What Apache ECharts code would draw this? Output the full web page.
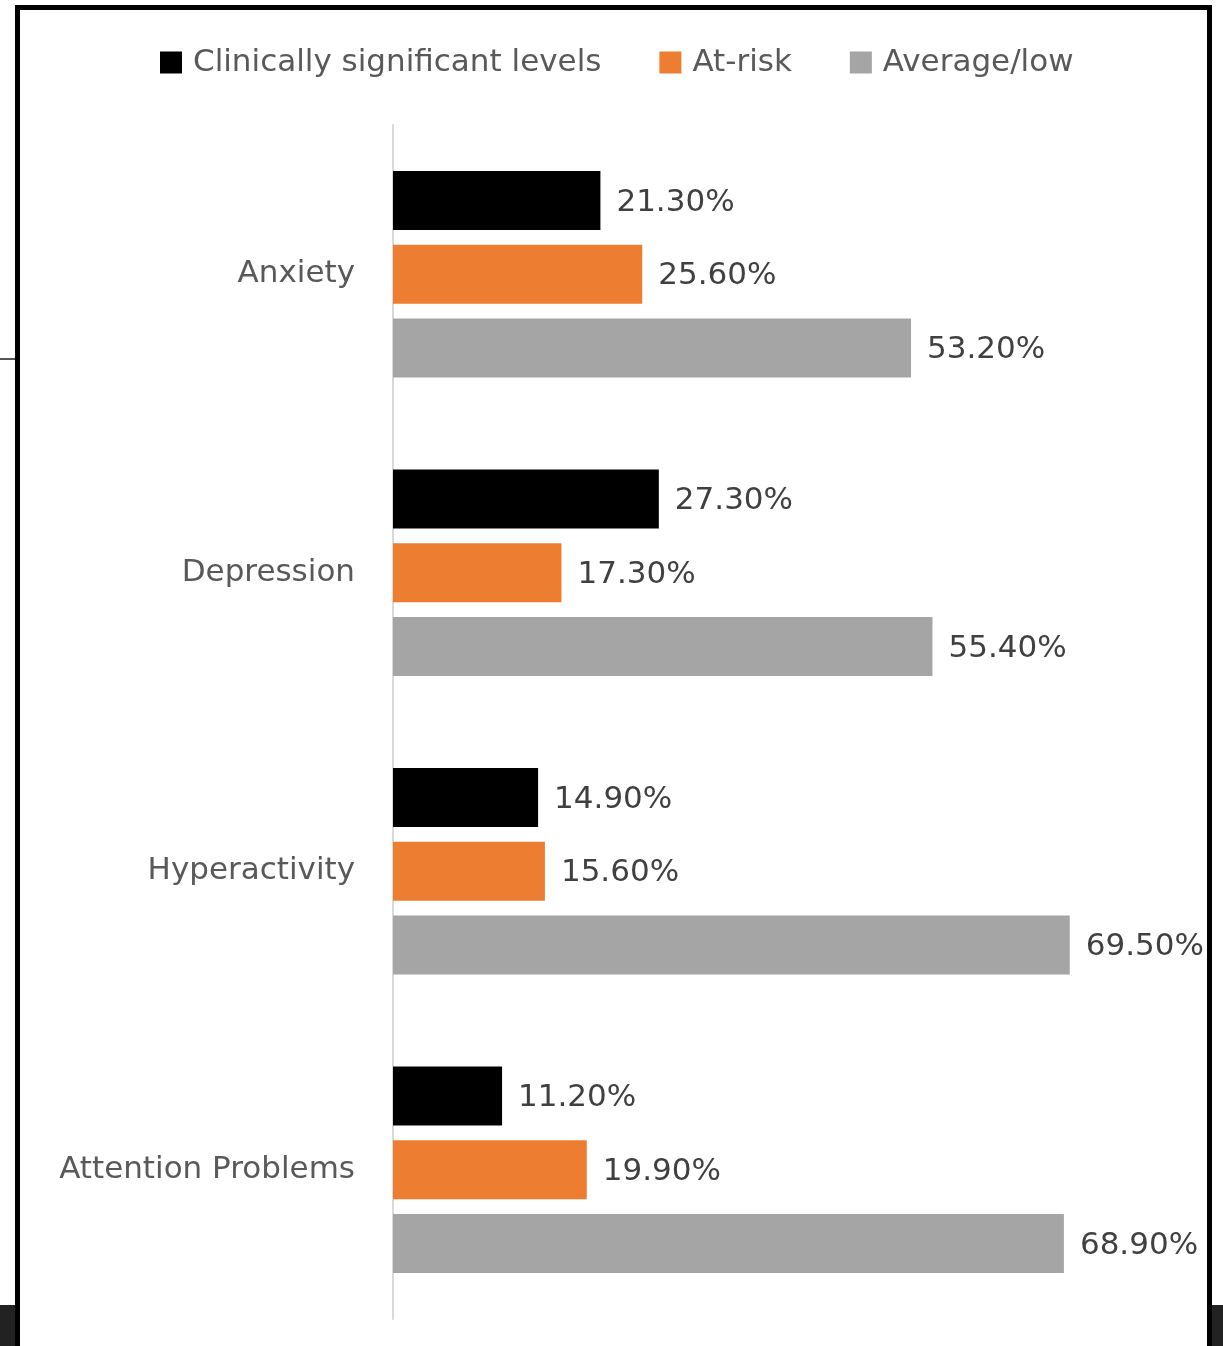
<!DOCTYPE html>
<html>
<head>
<meta charset="utf-8">
<script src="https://cdn.jsdelivr.net/npm/echarts@6/dist/echarts.min.js"></script>
<style>
  html, body { margin: 0; padding: 0; background: #ffffff; }
  #chart { width: 1223px; height: 1346px; }
</style>
</head>
<body>
<div id="chart"></div>
<script>
// Screening outcomes by scale
const categories = ['Anxiety', 'Depression', 'Hyperactivity', 'Attention Problems'];
const seriesNames = ['Clinically significant levels', 'At-risk', 'Average/low'];
const clinicallySignificant = [21.3, 27.3, 14.9, 11.2];
const atRisk = [25.6, 17.3, 15.6, 19.9];
const averageLow = [53.2, 55.4, 69.5, 68.9];
const seriesColors = ['#000000', '#ED7D31', '#A5A5A5'];

const FONT = '"DejaVu Sans", "Open Sans", sans-serif';
const valueSets = [clinicallySignificant, atRisk, averageLow];

const chart = echarts.init(document.getElementById('chart'), null, { renderer: 'canvas' });

chart.setOption({
  backgroundColor: '#ffffff',
  animation: false,
  legend: {
    data: seriesNames,
    left: 155,
    top: 42,
    icon: 'rect',
    itemWidth: 22,
    itemHeight: 22,
    itemGap: 58,
    textStyle: { color: '#595959', fontSize: 31, fontFamily: FONT, padding: [0, 0, 0, 6] }
  },
  grid: { left: 393, top: 125, width: 779, height: 1194, containLabel: false },
  xAxis: {
    type: 'value',
    min: 0,
    max: 80,
    show: false
  },
  yAxis: {
    type: 'category',
    data: categories,
    inverse: true,
    axisLine: { show: true, lineStyle: { color: '#d9d9d9', width: 2 } },
    axisTick: { show: false },
    axisLabel: { color: '#595959', fontSize: 31, fontFamily: FONT, margin: 38 }
  },
  series: seriesNames.map((name, i) => ({
    name: name,
    type: 'bar',
    data: valueSets[i],
    barWidth: 59,
    barGap: '25%',
    itemStyle: { color: seriesColors[i] },
    label: {
      show: true,
      position: 'right',
      distance: 16,
      offset: [0, 2],
      color: '#404040',
      fontSize: 31,
      fontFamily: FONT,
      formatter: p => p.value.toFixed(2) + '%'
    }
  })),
  graphic: [
    // outer frame
    { type: 'rect', shape: { x: 17.5, y: 7.5, width: 1192, height: 1400 },
      style: { fill: null, stroke: '#000000', lineWidth: 5 }, silent: true, z: 100 },
    // dark strips below the frame edges
    { type: 'rect', shape: { x: 0, y: 1305, width: 15, height: 41 }, style: { fill: '#222222' }, z: 99 },
    { type: 'rect', shape: { x: 1212, y: 1305, width: 11, height: 41 }, style: { fill: '#222222' }, z: 99 },
    // short rule at left edge
    { type: 'rect', shape: { x: 0, y: 358, width: 15, height: 2 }, style: { fill: '#555555' }, z: 99 }
  ]
});
</script>
</body>
</html>
